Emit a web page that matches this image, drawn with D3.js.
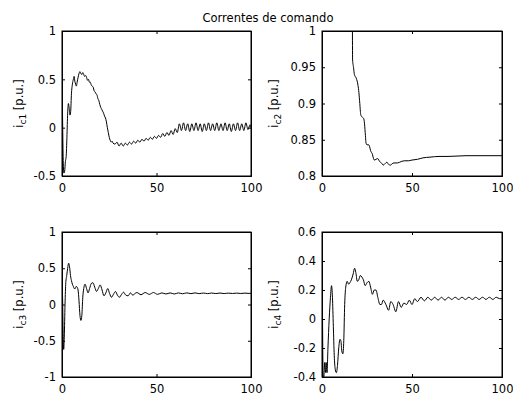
<!DOCTYPE html>
<html>
<head>
<meta charset="utf-8">
<script src="https://cdn.jsdelivr.net/npm/d3@7"></script>
<style>
  body { margin: 0; background: #fff; }
  text { font-family: "DejaVu Sans", sans-serif; font-size: 11.5px; fill: #000; }
</style>
</head>
<body>
<script>
// time axis ticks (same for all panels)
var xTicks = [0, 50, 100];

// i_c1 [t, value]
var c1 = [[0,0.4],[0.3,0.1],[0.6,-0.3],[1.0,-0.47],[1.4,-0.45],[1.8,-0.35],[2.2,-0.3],[2.6,-0.1],
  [3.0,0.15],[3.4,0.25],[3.8,0.2],[4.2,0.13],[4.6,0.17],[5.0,0.35],[5.5,0.45],[6.0,0.5],[6.4,0.53],
  [6.8,0.48],[7.2,0.45],[7.6,0.43],[8.0,0.47],[8.5,0.52],[9.0,0.56],[9.5,0.58],[10,0.56],[10.5,0.55],
  [11,0.57],[11.5,0.55],[12,0.53],[12.5,0.54],[13,0.52],[13.5,0.49],[14,0.5],[14.5,0.47],[15,0.47],
  [15.5,0.44],[16,0.43],[16.5,0.42],[17,0.38],[17.5,0.37],[18,0.35],[18.5,0.34],[19,0.3],[19.5,0.28],
  [20,0.24],[20.5,0.21],[21,0.19],[21.5,0.17],[22,0.15],[22.5,0.12],[23,0.1],[23.5,0.06],[24,0.0],
  [24.5,-0.05],[25,-0.1],[25.5,-0.13],[26,-0.15],[26.5,-0.14],[27,-0.16],[28,-0.17],[29.1,-0.15],
  [30.2,-0.19],[31.3,-0.16],[32.4,-0.19],[33.5,-0.16],[34.6,-0.18],[35.7,-0.15],[36.8,-0.17],
  [37.9,-0.14],[39.0,-0.16],[40.1,-0.13],[41.2,-0.15],[42.3,-0.12],[43.4,-0.14],[44.5,-0.11],
  [45.6,-0.13],[46.7,-0.1],[47.8,-0.12],[48.9,-0.09],[50.0,-0.11],[51.1,-0.08],[52.2,-0.1],
  [53.3,-0.06],[54.4,-0.09],[55.5,-0.05],[56.6,-0.08],[57.7,-0.03],[58.8,-0.07],[59.9,-0.01],
  [61.0,-0.05],[62.1,0.04],[63.2,-0.03],[64.3,0.05],[65.4,-0.03],[66.5,0.04],[67.6,-0.04],
  [68.7,0.04],[69.8,-0.03],[70.9,0.05],[72.0,-0.03],[73.1,0.04],[74.2,-0.04],[75.3,0.04],
  [76.4,-0.03],[77.5,0.05],[78.6,-0.03],[79.7,0.04],[80.8,-0.03],[81.9,0.05],[83.0,-0.03],
  [84.1,0.04],[85.2,-0.03],[86.3,0.05],[87.4,-0.03],[88.5,0.04],[89.6,-0.04],[90.7,0.04],
  [91.8,-0.03],[92.9,0.05],[94.0,-0.03],[95.1,0.04],[96.2,-0.03],[97.3,0.05],[98.4,-0.02],
  [99.5,0.03],[100,0.0]];

// i_c2
var c2 = [[16.8,1.1],[17.0,0.96],[17.5,0.95],[18,0.94],[19,0.935],[20,0.925],[20.5,0.915],[21,0.9],
  [21.5,0.885],[22,0.882],[23,0.88],[23.5,0.875],[24,0.86],[24.5,0.845],[25,0.843],[26,0.843],
  [26.5,0.84],[27,0.835],[28,0.83],[28.5,0.825],[29,0.822],[30,0.823],[31,0.824],[32,0.82],
  [33,0.818],[34,0.815],[35,0.817],[36,0.819],[37,0.816],[38,0.815],[39,0.817],[40,0.818],
  [42,0.818],[44,0.82],[46,0.821],[48,0.821],[50,0.822],[53,0.823],[56,0.825],[60,0.826],
  [65,0.827],[70,0.827],[80,0.828],[90,0.828],[100,0.828]];

// i_c3
var c3 = [[0,0.3],[0.3,0.1],[0.6,-0.4],[0.9,-0.62],[1.2,-0.45],[1.6,0.0],[2.0,0.3],[2.5,0.4],
  [3.0,0.5],[3.5,0.57],[4.0,0.52],[4.5,0.4],[5.0,0.33],[5.5,0.28],[6.0,0.25],[6.5,0.22],[7.0,0.22],
  [7.5,0.25],[8.0,0.24],[8.5,0.2],[9.0,0.05],[9.5,-0.15],[10,-0.22],[10.5,-0.15],[11,0.1],
  [11.5,0.22],[12.2,0.28],[13,0.22],[13.8,0.16],[14.6,0.22],[15.5,0.29],[16.4,0.3],[17.3,0.24],
  [18.3,0.18],[19.2,0.22],[20.2,0.27],[21.2,0.2],[22.2,0.12],[23.2,0.16],[24.2,0.22],[25.2,0.15],
  [26.2,0.1],[27.2,0.14],[28.3,0.18],[29.3,0.13],[30.4,0.1],[31.5,0.14],[32.6,0.17],[33.7,0.13],
  [35,0.12],[36.2,0.16],[37.4,0.13],[39.6,0.165],[41.8,0.135],[44.0,0.165],[46.2,0.14],
  [48.4,0.165],[50.6,0.14],[52.8,0.16],[55.0,0.145],[57.2,0.16],[59.4,0.145],[61.6,0.16],
  [63.8,0.148],[66.0,0.16],[68.2,0.15],[70.4,0.16],[72.6,0.15],[74.8,0.158],[77.0,0.15],
  [79.2,0.158],[81.4,0.151],[83.6,0.158],[85.8,0.151],[88.0,0.157],[90.2,0.152],[92.4,0.157],
  [94.6,0.152],[96.8,0.157],[99.0,0.153],[100,0.155]];

// i_c4
var c4 = [[0,0.6],[0.3,0.0],[0.6,-0.38],[1.0,-0.4],[1.5,-0.3],[2.0,-0.37],[2.3,-0.3],[2.8,-0.37],
  [3.3,-0.2],[4.0,0.0],[4.7,0.15],[5.3,0.23],[5.8,0.15],[6.3,-0.05],[6.8,-0.25],[7.4,-0.35],
  [8.0,-0.37],[8.6,-0.32],[9.3,-0.2],[10,-0.14],[10.5,-0.15],[11,-0.22],[11.6,-0.24],[12.1,-0.15],
  [12.6,0.1],[13.2,0.22],[14,0.26],[14.8,0.24],[15.5,0.25],[16.3,0.27],[17.3,0.31],[18.1,0.35],
  [18.8,0.32],[19.6,0.26],[20.4,0.27],[21.3,0.3],[22.1,0.29],[23,0.27],[24,0.23],[25,0.25],
  [26,0.26],[27,0.22],[28,0.17],[29,0.2],[30,0.2],[31,0.15],[32.2,0.1],[33,0.1],[34,0.13],
  [35.5,0.1],[37,0.06],[38.2,0.12],[39.5,0.1],[41,0.05],[42.5,0.12],[44,0.08],[45.5,0.11],
  [47,0.1],[48.5,0.13],[50,0.1],[51.5,0.14],[53,0.12],[55,0.15],[56.9,0.125],[58.8,0.15],
  [60.7,0.13],[62.6,0.15],[64.5,0.13],[66.4,0.15],[68.3,0.13],[70.2,0.15],[72.1,0.135],[74,0.15],
  [75.9,0.135],[77.8,0.15],[79.7,0.135],[81.6,0.15],[83.5,0.135],[85.4,0.15],[87.3,0.135],
  [89.2,0.15],[91.1,0.135],[93,0.15],[94.9,0.135],[96.8,0.15],[98.7,0.14],[100,0.14]];

var yTicks1 = [-0.5, 0, 0.5, 1];
var yTicks2 = [0.8, 0.85, 0.9, 0.95, 1];
var yTicks3 = [-1, -0.5, 0, 0.5, 1];
var yTicks4 = [-0.4, -0.2, 0, 0.2, 0.4, 0.6];

var title = "Correntes de comando";

var panels = [
  {data: c1, ticks: yTicks1, sub: "c1", box: [62, 251, 31, 176], lx: 23},
  {data: c2, ticks: yTicks2, sub: "c2", box: [322, 502, 31, 176], lx: 278},
  {data: c3, ticks: yTicks3, sub: "c3", box: [62, 251, 232, 377], lx: 23},
  {data: c4, ticks: yTicks4, sub: "c4", box: [322, 502, 232, 377], lx: 278}
];

var svg = d3.select("body").append("svg")
  .attr("width", 513).attr("height", 400);

svg.append("text")
  .attr("x", 268).attr("y", 22)
  .attr("text-anchor", "middle")
  .text(title);

var fmt = function(d) { return String(d); };

panels.forEach(function(p, i) {
  var b = p.box;
  var x = d3.scaleLinear().domain([0, 100]).range([b[0], b[1]]);
  var ext = d3.extent(p.ticks);
  var y = d3.scaleLinear().domain(ext).range([b[3], b[2]]);

  var g = svg.append("g");

  g.append("clipPath").attr("id", "clip" + i)
    .append("rect").attr("x", b[0]).attr("y", b[2])
    .attr("width", b[1] - b[0]).attr("height", b[3] - b[2]);

  var line = d3.line()
    .x(function(d) { return x(d[0]); })
    .y(function(d) { return y(d[1]); })
    .curve(d3.curveMonotoneX);

  g.append("path")
    .attr("clip-path", "url(#clip" + i + ")")
    .attr("d", line(p.data))
    .attr("fill", "none")
    .attr("stroke", "#000")
    .attr("stroke-width", 1);

  // axes, ticks pointing inward like matlab
  g.append("g").attr("transform", "translate(0," + b[3] + ")")
    .call(d3.axisBottom(x).tickValues(xTicks).tickSize(-3).tickPadding(8).tickFormat(fmt));
  g.append("g").attr("transform", "translate(0," + b[2] + ")")
    .call(d3.axisTop(x).tickValues(xTicks).tickSize(-3).tickFormat(""));
  g.append("g").attr("transform", "translate(" + b[0] + ",0)")
    .call(d3.axisLeft(y).tickValues(p.ticks).tickSize(-3).tickPadding(6).tickFormat(fmt));
  g.append("g").attr("transform", "translate(" + b[1] + ",0)")
    .call(d3.axisRight(y).tickValues(p.ticks).tickSize(-3).tickFormat(""));

  g.selectAll(".domain").attr("stroke", "#000");
  g.selectAll(".tick line").attr("stroke", "#000");
  g.selectAll(".tick text").style("font-family", "DejaVu Sans").style("font-size", "11.5px").attr("fill", "#000");

  g.append("rect")
    .attr("x", b[0]).attr("y", b[2])
    .attr("width", b[1] - b[0]).attr("height", b[3] - b[2])
    .attr("fill", "none").attr("stroke", "#000");

  var lab = g.append("text")
    .attr("transform", "translate(" + p.lx + "," + ((b[2] + b[3]) / 2) + ") rotate(-90)")
    .attr("text-anchor", "middle");
  lab.append("tspan").text("i");
  lab.append("tspan").attr("dy", 3).style("font-size", "9px").text(p.sub);
  lab.append("tspan").attr("dy", -3).text(" [p.u.]");
});
</script>
</body>
</html>
